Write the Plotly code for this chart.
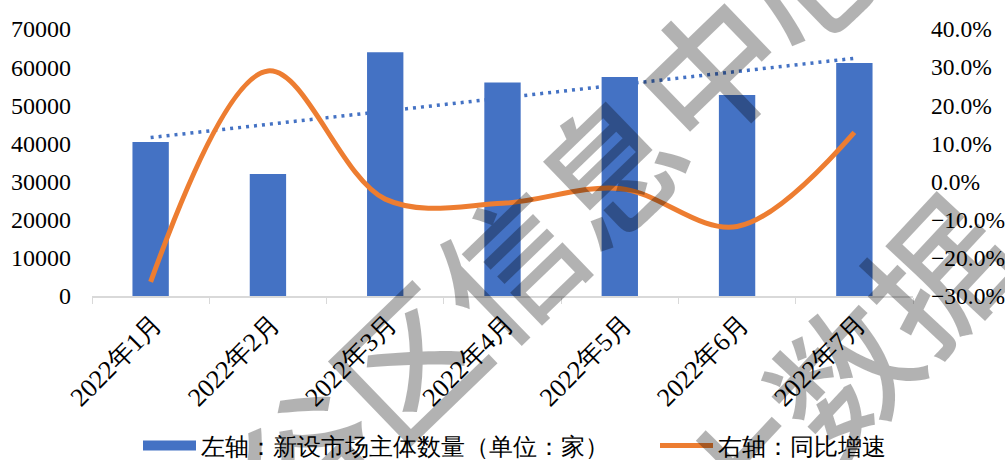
import numpy as np
import plotly.graph_objects as go

months = ["2022年1月", "2022年2月", "2022年3月", "2022年4月", "2022年5月", "2022年6月", "2022年7月"]
new_entities = [40400, 32000, 63900, 56000, 57400, 52700, 61100]
yoy_growth = [-0.263, 0.290, -0.046, -0.057, -0.018, -0.118, 0.129]
bar_name = "左轴：新设市场主体数量（单位：家）"
line_name = "右轴：同比增速"
watermark_1 = "谷区信息中心"
watermark_2 = "大数据"

# linear trendline of the bar series (Excel-style trendline)
xs = np.arange(1, len(new_entities) + 1)
slope, intercept = np.polyfit(xs, new_entities, 1)
trend = list(slope * xs + intercept)

BLUE = "#4472C4"
ORANGE = "#ED7D31"
FONT = "Liberation Serif"
WM = dict(family="Noto Sans CJK SC", size=140, color="rgba(0,0,0,0.3)", weight=500)

fig = go.Figure()
fig.add_trace(go.Scatter(x=months, y=trend, mode="lines", yaxis="y",
                         line=dict(color=BLUE, width=3.5, dash="3px,5px"),
                         showlegend=False, hoverinfo="skip"))
fig.add_trace(go.Bar(x=months, y=new_entities, name=bar_name, yaxis="y2",
                     marker=dict(color=BLUE, line=dict(width=0)), width=0.31,
                     showlegend=False))
fig.add_trace(go.Scatter(x=[None], y=[None], name=bar_name, mode="lines", yaxis="y2",
                         line=dict(color=BLUE, width=10), legend="legend"))
fig.add_trace(go.Scatter(x=months, y=yoy_growth, name=line_name, yaxis="y3",
                         mode="lines", line=dict(color=ORANGE, width=5, shape="spline", smoothing=1),
                         legend="legend2"))

fig.update_layout(
    width=1005, height=460,
    margin=dict(l=92, r=92, t=29, b=164),
    paper_bgcolor="white", plot_bgcolor="white",
    font=dict(family=FONT, size=24, color="black"),
    showlegend=True,
    legend=dict(xref="container", yref="container", x=138 / 1005, xanchor="left",
                y=1 - 446 / 460, yanchor="middle", orientation="h",
                font=dict(family=FONT, size=24), itemwidth=53, bgcolor="rgba(0,0,0,0)"),
    legend2=dict(xref="container", yref="container", x=655 / 1005, xanchor="left",
                 y=1 - 446 / 460, yanchor="middle", orientation="h",
                 font=dict(family=FONT, size=24), itemwidth=53, bgcolor="rgba(0,0,0,0)"),
    xaxis=dict(type="category", showgrid=False, showline=True, linecolor="#D9D9D9", linewidth=1.5,
               ticks="outside", tickson="boundaries", ticklen=6, tickcolor="#D9D9D9",
               tickangle=-45, tickfont=dict(family=FONT, size=26), range=[-0.5, 6.5],
               ticklabelshift=4, automargin=False),
    yaxis=dict(range=[0, 70000], dtick=10000, tickformat="d", showgrid=False, zeroline=False,
               showline=False, ticks="", ticklabelstandoff=20,
               tickfont=dict(family=FONT, size=24), automargin=False),
    yaxis2=dict(range=[0, 70000], overlaying="y", visible=False),
    yaxis3=dict(range=[-0.3, 0.4], dtick=0.1, tickformat=".1%", overlaying="y", side="right",
                showgrid=False, zeroline=False, showline=False, ticks="", ticklabelstandoff=17,
                tickfont=dict(family=FONT, size=23.5), automargin=False),
    bargap=0.69,
)

fig.add_annotation(text=watermark_1, xref="paper", yref="paper",
                   x=(555 - 92) / 821, y=(296 - 212) / 267, xanchor="center", yanchor="middle",
                   showarrow=False, textangle=-44, font=WM)
fig.add_annotation(text=watermark_2, xref="paper", yref="paper",
                   x=(838 - 92) / 821, y=(296 - 372) / 267, xanchor="center", yanchor="middle",
                   showarrow=False, textangle=-47, font=WM)

fig.write_html("out.html", config={"displayModeBar": False},
               post_script="document.body.style.margin='0';document.body.style.overflow='hidden';")
